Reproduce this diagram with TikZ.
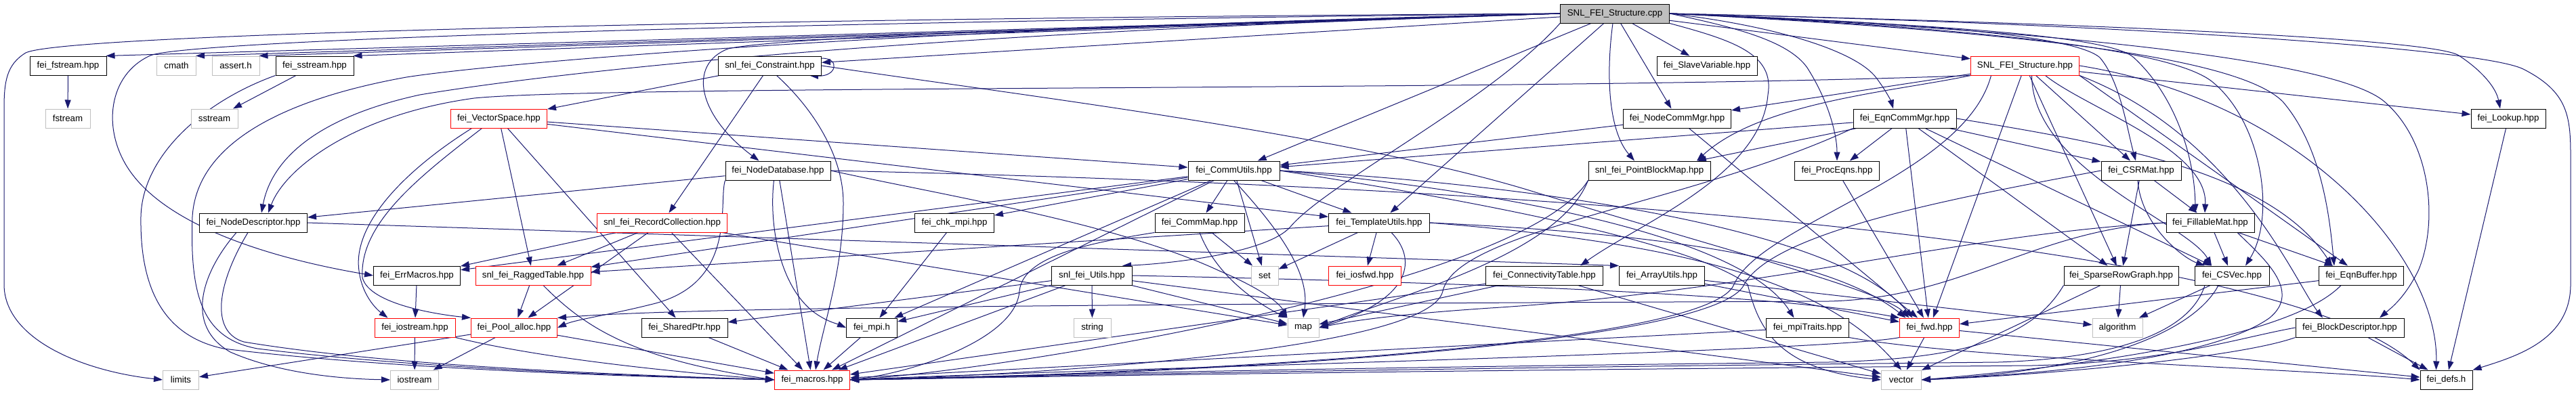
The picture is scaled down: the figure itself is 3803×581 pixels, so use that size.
\documentclass[tikz,border=0pt]{standalone}
\usepackage{fontspec}
\setmainfont{Liberation Sans}
\usetikzlibrary{arrows.meta,calc}
\definecolor{edgec}{HTML}{191970}
\definecolor{gborder}{HTML}{BFBFBF}
\definecolor{rootfill}{HTML}{BFBFBF}
\pgfdeclarelayer{bg}
\pgfsetlayers{bg,main}
\begin{document}
\begin{tikzpicture}[x=1pt,y=-1pt,
  nb/.style={draw=black,line width=1pt,fill=white,minimum height=28pt,inner sep=0pt,font=\fontsize{13.3pt}{16pt}\selectfont},
  ng/.style={nb,draw=gborder},
  nr/.style={nb,draw=red},
  nroot/.style={nb,fill=rootfill},
  e/.style={draw=edgec,line width=1pt,-{Triangle[length=13pt,width=9pt]}}]
\path[use as bounding box] (0,0) rectangle (3803,581);
% row 0
\node[nroot,minimum width=161pt] (root) at (2384,20) {SNL\_FEI\_Structure.cpp};
% row 1
\node[nb,minimum width=113pt] (fsh) at (100.5,97) {fei\_fstream.hpp};
\node[ng,minimum width=58pt] (cmath) at (260.5,97) {cmath};
\node[ng,minimum width=70pt] (assert) at (348,97) {assert.h};
\node[nb,minimum width=115pt] (ssh) at (464.5,97) {fei\_sstream.hpp};
\node[nb,minimum width=152pt] (cons) at (1136.5,97) {snl\_fei\_Constraint.hpp};
\node[nb,minimum width=148pt] (slave) at (2520,97) {fei\_SlaveVariable.hpp};
\node[nr,minimum width=160pt] (sfh) at (2989.5,97) {SNL\_FEI\_Structure.hpp};
% row 2
\node[ng,minimum width=66pt] (fstream) at (100,175) {fstream};
\node[ng,minimum width=69pt] (sstream) at (316.5,175) {sstream};
\node[nr,minimum width=142pt] (vsp) at (736.5,175) {fei\_VectorSpace.hpp};
\node[nb,minimum width=159pt] (ncm) at (2476,175) {fei\_NodeCommMgr.hpp};
\node[nb,minimum width=152pt] (ecm) at (2812,175) {fei\_EqnCommMgr.hpp};
\node[nb,minimum width=110pt] (lookup) at (3703,175) {fei\_Lookup.hpp};
% row 3
\node[nb,minimum width=155pt] (ndb) at (1148.5,252) {fei\_NodeDatabase.hpp};
\node[nb,minimum width=135pt] (cu) at (1821.5,252) {fei\_CommUtils.hpp};
\node[nb,minimum width=180pt] (pbm) at (2435,252) {snl\_fei\_PointBlockMap.hpp};
\node[nb,minimum width=125pt] (peq) at (2712,252) {fei\_ProcEqns.hpp};
\node[nb,minimum width=118pt] (csr) at (3161,252) {fei\_CSRMat.hpp};
% row 4
\node[nb,minimum width=159pt] (nd) at (374,329) {fei\_NodeDescriptor.hpp};
\node[nr,minimum width=192pt] (rc) at (977.5,329) {snl\_fei\_RecordCollection.hpp};
\node[nb,minimum width=117pt] (chk) at (1409,329) {fei\_chk\_mpi.hpp};
\node[nb,minimum width=132pt] (cmap) at (1771,329) {fei\_CommMap.hpp};
\node[nb,minimum width=149pt] (tu) at (2036,329) {fei\_TemplateUtils.hpp};
\node[nb,minimum width=130pt] (fm) at (3263,329) {fei\_FillableMat.hpp};
% row 5
\node[nb,minimum width=128pt] (em) at (615.5,407) {fei\_ErrMacros.hpp};
\node[nr,minimum width=170pt] (rt) at (787,407) {snl\_fei\_RaggedTable.hpp};
\node[nb,minimum width=119pt] (su) at (1612,407) {snl\_fei\_Utils.hpp};
\node[ng,minimum width=40pt] (set) at (1867,407) {set};
\node[nr,minimum width=107pt] (iof) at (2015,407) {fei\_iosfwd.hpp};
\node[nb,minimum width=173pt] (ct) at (2280,407) {fei\_ConnectivityTable.hpp};
\node[nb,minimum width=126pt] (au) at (2453.5,407) {fei\_ArrayUtils.hpp};
\node[nb,minimum width=169pt] (srg) at (3131.5,407) {fei\_SparseRowGraph.hpp};
\node[nb,minimum width=110pt] (csv) at (3295,407) {fei\_CSVec.hpp};
\node[nb,minimum width=125pt] (eb) at (3486,407) {fei\_EqnBuffer.hpp};
% row 6
\node[nr,minimum width=119pt] (ioh) at (612.5,484) {fei\_iostream.hpp};
\node[nr,minimum width=127pt] (pa) at (759,484) {fei\_Pool\_alloc.hpp};
\node[nb,minimum width=127pt] (sp) at (1010.5,484) {fei\_SharedPtr.hpp};
\node[nb,minimum width=75pt] (mpih) at (1287,484) {fei\_mpi.h};
\node[ng,minimum width=55pt] (string) at (1612.5,484) {string};
\node[ng,minimum width=46pt] (map) at (1924,484) {map};
\node[nb,minimum width=122pt] (mpit) at (2668.5,484) {fei\_mpiTraits.hpp};
\node[nr,minimum width=88pt] (fwd) at (2848.5,484) {fei\_fwd.hpp};
\node[ng,minimum width=74pt] (alg) at (3126,484) {algorithm};
\node[nb,minimum width=160pt] (bd) at (3469,484) {fei\_BlockDescriptor.hpp};
% row 7
\node[ng,minimum width=53pt] (limits) at (267,561) {limits};
\node[ng,minimum width=71pt] (iostream) at (612,561) {iostream};
\node[nr,minimum width=111pt] (mac) at (1199,561) {fei\_macros.hpp};
\node[ng,minimum width=59pt] (vector) at (2807,561) {vector};
\node[nb,minimum width=77pt] (defs) at (3611.5,561) {fei\_defs.h};

\begin{pgfonlayer}{bg}
\fill[white] (0,0) rectangle (3803,581);
\foreach \a/\b in {root/cons,root/cu,root/tu,root/ncm,root/slave,root/sfh,
 fsh/fstream,ssh/sstream,cons/vsp,cons/rc,vsp/rt,vsp/cu,vsp/tu,vsp/sp,ndb/nd,ndb/mac,
 cu/em,cu/rt,cu/mpih,cu/chk,cu/cmap,cu/tu,cu/set,cu/mac,
 rc/em,rc/rt,rc/pa,rc/map,rc/mac,chk/mpih,cmap/set,tu/set,tu/iof,tu/rt,
 su/sp,su/mpih,su/string,su/vector,su/mac,su/map,
 ncm/cu,ncm/fwd,ecm/cu,ecm/pbm,ecm/peq,ecm/csr,ecm/fwd,ecm/csv,ecm/srg,peq/fwd,
 ct/map,ct/mac,ct/vector,au/alg,au/fwd,fwd/vector,fwd/defs,mpit/mac,
 sfh/lookup,sfh/ncm,sfh/csr,sfh/srg,sfh/fwd,csr/fm,csr/srg,fm/csv,fm/eb,srg/alg,srg/vector,csv/alg,eb/fwd,bd/defs,lookup/defs,
 em/ioh,ioh/iostream,pa/limits,pa/iostream,pa/mac,rt/pa,sp/mac,mpih/mac}
 {\draw[e] (\a) -- (\b);}
\foreach \b in {fsh,cmath,assert,ssh}
 {\draw[e] (root.west) -- ([xshift=-1pt]\b.north east);}
\draw[e] (nd.east) -- (au.north west);
\draw[e] (sfh.south east) -- ([xshift=-20pt]eb.north);
% self loop
\draw[e] ($(cons.east)+(0,-11)$) .. controls +(28,0) and +(40,2) .. ($(cons.south east)+(-18,0)$);
% root curves
\draw[e] (root.west) .. controls (1000,28) and (90,52) .. (38,78) .. controls (10,95) and (6,120) .. (6,160) -- (6,420) .. controls (6,500) and (120,548) .. (limits.west);
\draw[e] (root.west) .. controls (1000,34) and (270,62) .. (222,82) .. controls (160,110) and (150,190) .. (190,250) .. controls (250,340) and (420,385) .. (em.west);
\draw[e] (root.west) .. controls (1300,42) and (720,95) .. (600,114) .. controls (400,150) and (290,220) .. (284,320) .. controls (280,440) and (300,500) .. (380,515) .. controls (650,548) and (1000,557) .. (mac.west);
\draw[e] (root.west) .. controls (1300,50) and (800,110) .. (620,140) .. controls (460,175) and (400,240) .. ([xshift=12pt]nd.north);
\draw[e] (root.west) .. controls (1600,40) and (1150,55) .. (1075,72) .. controls (1015,95) and (1030,170) .. ([xshift=-28pt]ndb.north);
\draw[e] (root.east) .. controls (3000,32) and (3590,55) .. (3630,82) .. controls (3665,105) and (3685,130) .. ([xshift=-12pt]lookup.north);
\draw[e] (root.east) .. controls (3100,34) and (3660,70) .. (3725,102) .. controls (3790,135) and (3795,170) .. (3795,230) -- (3795,420) .. controls (3795,500) and (3720,525) .. (defs.north east);
\draw[e] (root.east) .. controls (2800,32) and (3060,50) .. (3100,85) .. controls (3130,120) and (3140,190) .. ([xshift=-8pt]csr.north);
\draw[e] (root.east) .. controls (2850,36) and (3115,52) .. (3150,85) .. controls (3210,140) and (3240,230) .. ([xshift=-22pt]fm.north);
\draw[e] (root.east) .. controls (2900,40) and (3200,70) .. (3265,120) .. controls (3340,180) and (3360,320) .. ([xshift=20pt]csv.north);
\draw[e] (root.east) .. controls (2950,45) and (3300,80) .. (3370,150) .. controls (3430,220) and (3440,330) .. ([xshift=-40pt]eb.north);
\draw[e] (root.east) .. controls (3050,45) and (3450,90) .. (3520,150) .. controls (3590,210) and (3600,330) .. (3570,400) .. controls (3550,440) and (3530,455) .. ([xshift=44pt]bd.north);
\draw[e] (root.east) .. controls (2560,40) and (2640,60) .. (2668,100) .. controls (2700,150) and (2712,200) .. (peq.north);
\draw[e] (root.east) .. controls (2620,38) and (2740,75) .. (2770,115) .. controls (2785,135) and (2792,150) .. ([xshift=-17pt]ecm.north);
\draw[e] (root.south east) .. controls (2560,60) and (2620,80) .. (2610,140) .. controls (2600,260) and (2420,330) .. ([xshift=53pt]ct.north);
\draw[e] ([xshift=-3pt]root.south) .. controls (2372,100) and (2372,190) .. ([xshift=-22pt]pbm.north);
\draw[e] (root.south west) .. controls (2200,150) and (1960,270) .. (1905,335) .. controls (1870,375) and (1720,390) .. ([xshift=45pt]su.north);
% other curves
\draw[e] (sfh.south west) .. controls (2300,135) and (900,125) .. (700,145) .. controls (520,170) and (420,250) .. ([xshift=22pt]nd.north);
\draw[e] (ssh.south west) .. controls (300,150) and (210,230) .. (208,320) .. controls (206,450) and (260,500) .. (330,515) .. controls (600,548) and (1000,558) .. (mac.west);
\draw[e] ([xshift=-25pt]nd.south) .. controls (300,400) and (270,480) .. (340,520) .. controls (420,555) and (520,560) .. (iostream.west);
\draw[e] ([xshift=-8pt]nd.south) .. controls (320,420) and (310,490) .. (360,505) .. controls (600,545) and (1000,556) .. (mac.west);
\draw[e] ([xshift=10pt]cons.south) .. controls (1200,160) and (1245,230) .. (1245,300) .. controls (1245,400) and (1215,480) .. ([xshift=5pt]mac.north);
\draw[e] (cons.east) .. controls (1500,140) and (2000,200) .. (2270,285) .. controls (2550,370) and (2780,430) .. ([xshift=-30pt]fwd.north);
\draw[e] ([xshift=-40pt]vsp.south) .. controls (600,250) and (520,330) .. (530,400) .. controls (535,440) and (560,460) .. ([xshift=-40pt]ioh.north);
\draw[e] ([xshift=-25pt]vsp.south) .. controls (620,260) and (530,330) .. (535,410) .. controls (545,450) and (650,465) .. (pa.north west);
\draw[e] (ndb.south west) .. controls (1060,300) and (1090,420) .. (960,450) .. controls (900,465) and (850,472) .. (pa.east);
\draw[e] (ndb.east) .. controls (1400,290) and (1650,330) .. (1800,400) .. controls (1870,430) and (1890,450) .. (map.north west);
\draw[e] (ndb.east) .. controls (2500,280) and (3400,380) .. (defs.north west);
\draw[e] ([xshift=-6pt]ndb.south) .. controls (1135,330) and (1150,420) .. (1200,460) .. controls (1220,475) and (1235,478) .. (mpih.west);
\draw[e] (cu.south) .. controls (1880,330) and (1935,400) .. (map.north);
\draw[e] (cu.east) .. controls (2200,300) and (2500,360) .. (2580,420) .. controls (2595,480) and (2620,545) .. (vector.west);
\draw[e] (cu.east) .. controls (2100,270) and (2560,330) .. ([xshift=-20pt]mpit.north);
\draw[e] (cu.east) .. controls (2150,265) and (2700,320) .. ([xshift=-25pt]fwd.north);
\draw[e] (cmap.south) .. controls (1800,420) and (1880,460) .. (map.north west);
\draw[e] (cmap.south west) .. controls (1600,360) and (1510,380) .. (1505,430) .. controls (1500,500) and (1350,550) .. (mac.east);
\draw[e] ([xshift=18pt]tu.south) .. controls (2090,380) and (2090,440) .. (map.east);
\draw[e] (tu.east) .. controls (2500,360) and (2700,420) .. (vector.north);
\draw[e] (tu.east) .. controls (2450,345) and (2700,380) .. ([xshift=-35pt]fwd.north);
\draw[e] (su.east) .. controls (2300,420) and (2650,440) .. (fwd.north west);
\draw[e] (pbm.south west) .. controls (2300,380) and (2050,440) .. (map.east);
\draw[e] (pbm.south west) .. controls (2250,420) and (1500,545) .. (mac.east);
\draw[e] (ecm.east) .. controls (3100,210) and (3350,250) .. ([xshift=-43pt]eb.north);
\draw[e] (ecm.south west) .. controls (2500,300) and (2150,340) .. (2130,430) .. controls (2110,520) and (1500,555) .. (mac.east);
\draw[e] (mpit.south east) .. controls (2900,530) and (3400,545) .. (defs.west);
\draw[e] (fwd.south west) .. controls (2700,520) and (1600,545) .. (mac.east);
\draw[e] (sfh.south west) .. controls (2800,135) and (2600,150) .. ([xshift=70pt]pbm.north);
\draw[e] ([xshift=30pt]sfh.south) .. controls (3080,160) and (3260,220) .. ([xshift=-8pt]fm.north);
\draw[e] ([xshift=10pt]sfh.south) .. controls (3000,250) and (3230,330) .. ([xshift=-30pt]csv.north);
\draw[e] (sfh.south east) .. controls (3300,200) and (3390,420) .. ([xshift=-40pt]bd.north);
\draw[e] (sfh.east) .. controls (3400,150) and (3600,380) .. ([xshift=-15pt]defs.north);
\draw[e] ([xshift=-50pt]sfh.south) .. controls (2900,260) and (2600,330) .. (2560,420) .. controls (2520,520) and (1600,556) .. (mac.east);
\draw[e] ([xshift=-5pt]csr.south) .. controls (3160,330) and (3220,380) .. ([xshift=-40pt]csv.north);
\draw[e] (csr.west) .. controls (2900,290) and (2620,340) .. (2575,420) .. controls (2530,520) and (1600,558) .. (mac.east);
\draw[e] (fm.west) .. controls (2900,345) and (2600,430) .. (2200,455) .. controls (2050,465) and (1990,475) .. (map.east);
\draw[e] (fm.west) .. controls (3000,340) and (2900,440) .. (2700,445) .. controls (1500,450) and (1000,455) .. (pa.north east);
\draw[e] ([xshift=40pt]fm.south) .. controls (3340,380) and (3400,430) .. (3350,470) .. controls (3250,540) and (2950,555) .. (vector.east);
\draw[e] (srg.south west) .. controls (3000,500) and (2900,530) .. (2700,535) .. controls (1800,545) and (1500,555) .. (mac.east);
\draw[e] ([xshift=-20pt]csv.south) .. controls (3250,470) and (3150,545) .. (vector.east);
\draw[e] ([xshift=-40pt]csv.south) .. controls (3230,500) and (3100,530) .. (2950,535) .. controls (2000,545) and (1500,556) .. (mac.east);
\draw[e] ([xshift=-30pt]eb.south) .. controls (3400,480) and (3200,530) .. (vector.east);
\draw[e] (bd.west) .. controls (3300,500) and (3200,535) .. (3000,540) .. controls (2000,548) and (1500,557) .. (mac.east);
\draw[e] (bd.south west) .. controls (3300,530) and (3000,555) .. (vector.east);
\draw[e] (ioh.south east) .. controls (800,530) and (1000,550) .. (mac.west);
\draw[e] ([xshift=15pt]rt.south) .. controls (860,480) and (930,530) .. (mac.west);
\end{pgfonlayer}
\end{tikzpicture}
\end{document}
